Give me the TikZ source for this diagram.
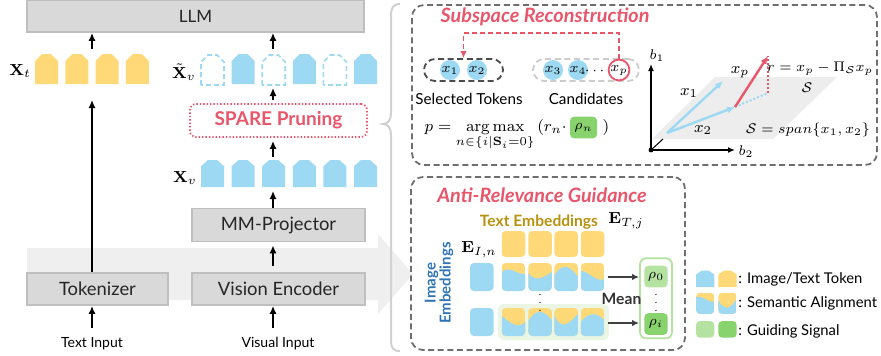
\documentclass[tikz,border=0pt]{standalone}
\usepackage{amsmath}
\usepackage[no-math]{fontspec}
\setmainfont{Lato}
\usepackage{tikz}
\usetikzlibrary{arrows.meta, positioning, calc}

\definecolor{tokblue}  {HTML}{9DD9F3}
\definecolor{tokyellow}{HTML}{FFD878}
\definecolor{sparered} {HTML}{E8566B}
\definecolor{boxgray}  {HTML}{D9D9D9}
\definecolor{boxedge}  {HTML}{BFBFBF}
\definecolor{flowgray} {HTML}{EFEFEF}
\definecolor{planegray}{HTML}{EDEDED}
\definecolor{textgold} {HTML}{B8920E}
\definecolor{imgblue}  {HTML}{2F74B5}
\definecolor{siglight} {HTML}{B4E2A0}
\definecolor{sigdark}  {HTML}{88D36E}
\definecolor{rowgreen} {HTML}{EAF5E3}
\definecolor{panelgray}{HTML}{6E6E6E}

\newcommand{\fsz}[1]{\fontsize{#1}{#1}\selectfont}

\tikzset{
	block/.style={draw=boxedge, fill=boxgray, line width=0.9pt, inner sep=0pt, font=\fsz{9.2}, text=black!85},
	uparrow/.style={-{Latex[length=4pt,width=3.6pt]}, line width=1.3pt},
	panel/.style={draw=panelgray, line width=0.9pt, dash pattern=on 3pt off 1.8pt, rounded corners=6pt, inner sep=0pt},
	paneltitle/.style={font=\fsz{9.9}\bfseries\itshape, text=sparered, inner sep=0pt},
	tokc/.style={circle, fill=tokblue, inner sep=0pt, minimum size=10pt, font=\fsz{7.5}},
	capsule/.style={line width=0.9pt, dash pattern=on 3pt off 1.8pt, rounded corners=5.5pt, minimum height=11pt, inner sep=0pt},
	lbl/.style={font=\fsz{7.6}, inner sep=0pt},
	vecblue/.style={draw=tokblue, line width=1.2pt, -{Latex[length=4pt,width=3.4pt]}},
	sig/.style={rounded corners=2pt, inner sep=0pt, minimum width=11.7pt, minimum height=10.8pt, font=\fsz{7.5}},
	tok/.pic={\path[pic actions] (-11.5,30) -- (-11.5,7) -- (-4.5,0) -- (4.5,0) -- (11.5,7) -- (11.5,30) -- cycle;},
}

% embedding square: yellow on top, blue below a wavy split
\newcommand{\alignsq}[6]{%
	\begin{scope}
		\clip[rounded corners=2pt] ({#1-11.75},#2) rectangle ({#1+11.75},{#2+28});
		\fill[tokyellow] ({#1-11.75},#2) rectangle ({#1+11.75},{#2+28});
		\fill[tokblue] ({#1-11.75},{#2+#3}) .. controls ({#1-4},{#2+#4}) and ({#1+4},{#2+#5}) .. ({#1+11.75},{#2+#6})
			-- ({#1+11.75},{#2+28}) -- ({#1-11.75},{#2+28}) -- cycle;
	\end{scope}}

\begin{document}
\begin{tikzpicture}[x=0.5pt, y=-0.5pt]
\useasboundingbox (0,0) rectangle (881,355);

% flow arrow in the back
\fill[flowgray] (27,248) -- (378,248) -- (378,234) -- (413,274) -- (378,314) -- (378,300) -- (27,300) -- cycle;

% pipeline blocks
\node[block, font=\fsz{8.5}, minimum width=168.5pt, minimum height=16pt] (llm) at (195.5,16) {LLM};
\node[block, minimum width=70.5pt, minimum height=16pt] (tokenizer) at (97.5,289) {Tokenizer};
\node[block, minimum width=86.5pt, minimum height=16pt] (vision) at (278.5,289) {Vision Encoder};
\node[block, minimum width=86.5pt, minimum height=16.5pt] (proj) at (278.5,225) {MM-Projector};
\node[draw=sparered, fill=white, line width=0.9pt, dash pattern=on 0.7pt off 1pt, rounded corners=3pt,
	minimum width=88.5pt, minimum height=16.5pt, font=\fsz{9.5}\bfseries, text=sparered] (spare) at (278.5,120.5) {SPARE Pruning};

\node[lbl, font=\fsz{7}] (txtin) at (92,344) {Text Input};
\node[lbl, font=\fsz{7}] (visin) at (278,344) {Visual Input};

% token rows
\foreach \x in {46.5,76.8,107.1,137.4}
	\pic[fill=tokyellow] at (\x,54) {tok};
\foreach \x in {212.5,273.7,334.9}
	\pic[draw=tokblue, line width=0.8pt, dash pattern=on 2.5pt off 1.5pt] at (\x,55) {tok};
\foreach \x in {243.1,304.3,365.5}
	\pic[fill=tokblue] at (\x,54) {tok};
\foreach \x in {212.5,243.1,273.7,304.3,334.9,365.5}
	\pic[fill=tokblue, yscale=0.9] at (\x,160) {tok};

\node[font=\fsz{8.5}, inner sep=1pt] (xt) at (20,71) {$\mathbf{X}_t$};
\node[font=\fsz{8.5}, inner sep=1pt] (xvt) at (184,72) {$\tilde{\mathbf{X}}_v$};
\node[font=\fsz{8.5}, inner sep=1pt] (xv) at (185,178) {$\mathbf{X}_v$};

% arrows of the pipeline
\coordinate (tcol) at (92,0);
\coordinate (vcol) at (273,0);
\coordinate (tin) at (92,328);
\coordinate (vin) at (273,328);
\coordinate (xttop) at (92,49);
\coordinate (xtbot) at (92,100);
\coordinate (xvttop) at (273,49);
\coordinate (xvtbot) at (273,88);
\coordinate (xvtop) at (273,157);
\coordinate (xvbot) at (273,191);

\draw[uparrow] (tin) -- (tokenizer.south -| tcol);
\draw[uparrow] (vin) -- (vision.south -| vcol);
\draw[uparrow] (tokenizer.north -| tcol) -- (xtbot);
\draw[uparrow, shorten <=3pt, shorten >=1.5pt] (vision.north -| vcol) -- (proj.south -| vcol);
\draw[uparrow] (proj.north -| vcol) -- (xvbot);
\draw[uparrow, shorten >=1.5pt] (xvtop) -- (spare.south -| vcol);
\draw[uparrow, shorten <=1.5pt] (spare.north -| vcol) -- (xvtbot);
\draw[uparrow] (xttop) -- (llm.south -| tcol);
\draw[uparrow] (xvttop) -- (llm.south -| vcol);

% brace
\draw[draw=black!18, line width=1pt] (400,4) .. controls (393,4) and (391,8) .. (391,16) -- (391,113)
	.. controls (391,120) and (388,124) .. (383,124) .. controls (388,124) and (391,128) .. (391,135)
	-- (391,340) .. controls (391,348) and (393,351) .. (400,351);

% ---- subspace reconstruction ----
\node[panel, minimum width=232.5pt, minimum height=80pt] (subsp) at (644.5,85) {};
\node[paneltitle] (subtitle) at (545,17) {Subspace Reconstruction};

\node[capsule, draw=black!70, minimum width=39.5pt] (sel) at (463.5,70) {};
\node[capsule, draw=black!20, minimum width=53pt] (cand) at (586,70) {};
\node[tokc] (x1) at (450,70) {$x_1$};
\node[tokc] (x2) at (477,70) {$x_2$};
\node[tokc] (x3) at (553,70) {$x_3$};
\node[tokc] (x4) at (578,70) {$x_4$};
\node[font=\fsz{7}] (cdots) at (596,71) {$\cdots$};
\node[tokc, fill=white, draw=sparered, line width=0.9pt, minimum size=10.4pt] (xp) at (619,70) {$x_p$};
\coordinate (turn) at (463.5,33);
\draw[draw=sparered, line width=0.9pt, dash pattern=on 2.5pt off 1.5pt, -{Latex[length=3.5pt,width=3.2pt]}]
	(xp.north) |- (turn) -- (sel.north);

\node[lbl] (seltxt) at (469,99) {Selected Tokens};
\node[lbl] (candtxt) at (586,99) {Candidates};

\node[font=\fsz{8}, anchor=base east, inner sep=0pt] (argm) at (567,131)
	{$p=\operatorname*{arg\,max}\limits_{n\in\{i|\mathbf{S}_i=0\}}\,(r_n\cdot$};
\node[sig, fill=sigdark, minimum width=13.5pt] (rhon) at (583.5,127.5) {$\rho_n$};
\node[font=\fsz{8}, anchor=base, inner sep=0pt] (rpar) at (606,131) {$)$};

% projection sketch
\coordinate (o) at (651,150);
\fill[planegray] (652,139) -- (773,139) -- (837,77) -- (715,77) -- cycle;
\draw[line width=0.8pt, -{Latex[length=3.5pt,width=3pt]}] (o) -- (651,64);
\draw[line width=0.8pt, -{Latex[length=3.5pt,width=3pt]}] (o) -- (735,150);
\draw[line width=0.5pt] (o) -- (663,139);
\fill (o) circle (1.2pt);
\node[font=\fsz{7}] (b1) at (657,56) {$b_1$};
\node[font=\fsz{7}] (b2) at (746,152) {$b_2$};

\coordinate (vo) at (667,133);
\coordinate (v1) at (723,81);
\coordinate (v2) at (735,107);
\coordinate (vp) at (768,56);
\coordinate (vh) at (768,93);
\draw[vecblue] (vo) -- (v1);
\draw[vecblue] (vo) -- (v2);
\draw[draw=tokblue, line width=1pt, dash pattern=on 1pt off 1pt] (v2) -- (vh);
\draw[draw=sparered, line width=1pt, dash pattern=on 1pt off 1pt] (vh) -- (vp);
\draw[draw=sparered, line width=1.2pt, -{Latex[length=4pt,width=3.4pt]}] (v2) -- (vp);

\node[font=\fsz{8}] (lx1) at (689,93) {$x_1$};
\node[font=\fsz{8}] (lx2) at (703,130) {$x_2$};
\node[font=\fsz{8}] (lxp) at (740,72) {$x_p$};
\node[font=\fsz{6.9}, inner sep=0pt] (lr) at (820,69) {$r=x_p-\Pi_{\mathcal{S}}x_p$};
\node[font=\fsz{7.5}] (ls) at (807,88) {$\mathcal{S}$};
\node[font=\fsz{7.5}] (lspan) at (808,130) {$\mathcal{S}=span\{x_1,x_2\}$};

% ---- anti-relevance guidance ----
\node[panel, minimum width=137pt, minimum height=86.5pt] (antip) at (548,263.5) {};
\node[paneltitle] (antitle) at (542,195) {Anti-Relevance Guidance};
\node[font=\fsz{7.8}\bfseries, text=textgold, inner sep=0pt] (txtemb) at (539,222) {Text Embeddings};
\node[font=\fsz{8}, inner sep=0pt] (etj) at (626,221) {$\mathbf{E}_{T,j}$};
\node[font=\fsz{8}] (ein) at (479,250) {$\mathbf{E}_{I,n}$};
\node[rotate=90, align=center, font=\fsz{7.5}\bfseries, text=imgblue] (imgemb) at (439,283) {Image\\Embeddings};

\fill[rowgreen, rounded corners=3pt] (498,304) rectangle (609,340);
\foreach \x in {513.5,540,566.2,592.5}
	\fill[tokyellow, rounded corners=2pt] ({\x-11.75},231) rectangle ({\x+11.75},257);
\fill[tokblue, rounded corners=2pt] (470,263) rectangle (493.5,291);
\fill[tokblue, rounded corners=2pt] (470,308) rectangle (493.5,336);

\alignsq{513.5}{263}{9}{2}{12}{11}
\alignsq{540}{263}{10}{20}{14}{9}
\alignsq{566.2}{263}{12}{0}{2}{14}
\alignsq{592.5}{263}{8}{8}{20}{16}
\alignsq{513.5}{308}{8}{14}{22}{14}
\alignsq{540}{308}{13}{0}{2}{12}
\alignsq{566.2}{308}{8}{24}{14}{6}
\alignsq{592.5}{308}{14}{4}{4}{12}

\node[font=\fsz{5}] (vd1) at (540,297) {$\vdots$};
\node[font=\fsz{5}] (vd2) at (656,297) {$\vdots$};

\node[draw=siglight, line width=0.9pt, rounded corners=3pt, minimum width=16pt, minimum height=40pt] (sigbox) at (656,298.3) {};
\node[sig, fill=siglight] (rho0) at (656,276.5) {$\rho_0$};
\node[sig, fill=sigdark] (rhoi) at (656,324) {$\rho_i$};
\node[font=\fsz{7.8}\bfseries, text=black!80] (mean) at (621.5,299) {Mean};

\coordinate (r0) at (608,277);
\coordinate (ri) at (608,323);
\draw[draw=black!75, line width=0.9pt, -{Latex[length=3.5pt,width=3.2pt]}] (r0) -- (sigbox.west |- r0);
\draw[draw=black!75, line width=0.9pt, -{Latex[length=3.5pt,width=3.2pt]}] (ri) -- (sigbox.west |- ri);

% ---- legend ----
\pic[fill=tokblue, xscale=0.8, yscale=0.55] at (705.2,270.7) {tok};
\pic[fill=tokyellow, xscale=0.8, yscale=0.55] at (727.5,270.7) {tok};
\begin{scope}[shift={(705.2,292.7)}, xscale=0.78, yscale=0.76]
	\alignsq{0}{0}{6}{2}{14}{12}
\end{scope}
\begin{scope}[shift={(727.5,292.7)}, xscale=0.78, yscale=0.76]
	\alignsq{0}{0}{10}{24}{22}{8}
\end{scope}
\fill[siglight, rounded corners=2pt] (696,321) rectangle (714.3,337.7);
\fill[sigdark, rounded corners=2pt] (718.3,321) rectangle (736.7,337.7);

\node[lbl, font=\fsz{7.4}, anchor=west] (lg1) at (738,279) {: Image/Text Token};
\node[lbl, font=\fsz{7.4}, anchor=west] (lg2) at (738,303.3) {: Semantic Alignment};
\node[lbl, font=\fsz{7.4}, anchor=west] (lg3) at (738,331.7) {: Guiding Signal};

\end{tikzpicture}
\end{document}
